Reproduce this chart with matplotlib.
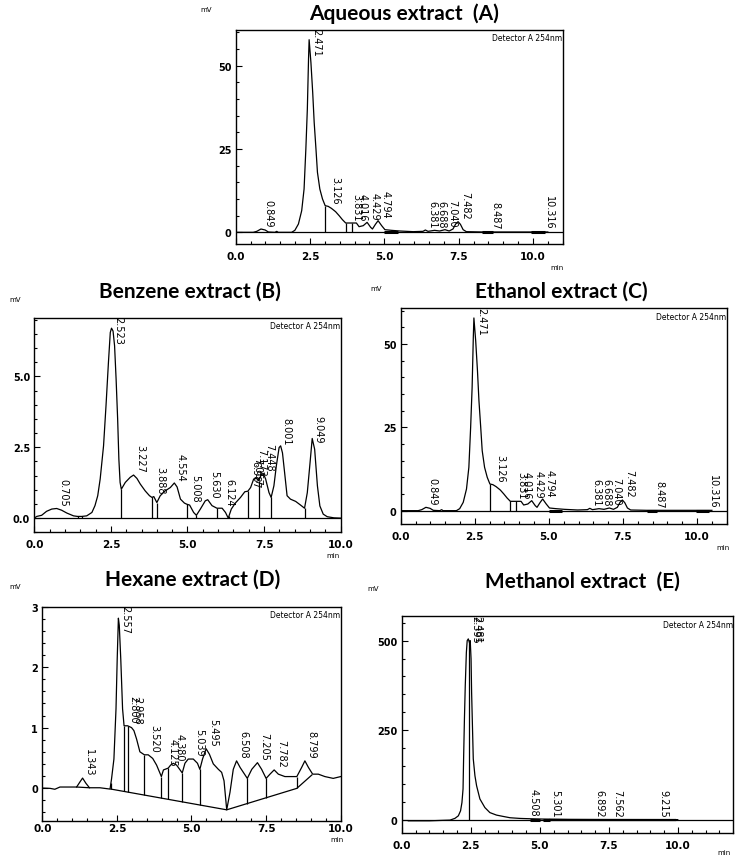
import numpy as np
import matplotlib as mpl; mpl.use("Agg")
import matplotlib.pyplot as plt
from matplotlib.ticker import MultipleLocator, FormatStrFormatter

NARROW = ["Liberation Sans Narrow", "DejaVu Sans"]
TITLEF = ["Lato", "DejaVu Sans"]
W, H = 738, 862

# ---- Aqueous extract (A); the ethanol trace (C) reads the same ----
t_aq = [0.0, 0.59, 0.71, 0.85, 0.99, 1.10, 1.32, 1.38, 1.43, 1.88, 1.99, 2.11, 2.22, 2.30, 2.36,
        2.41, 2.45, 2.47, 2.53, 2.59, 2.64, 2.70, 2.75, 2.83, 2.92, 3.01, 3.11, 3.22, 3.36, 3.48,
        3.59, 3.70, 4.06, 4.15, 4.29, 4.42, 4.54, 4.60, 4.70, 4.79, 4.91, 5.02, 5.24, 5.52, 5.97,
        6.30, 6.38, 6.47, 6.69, 6.86, 7.04, 7.18, 7.31, 7.40, 7.48, 7.56, 7.65, 7.76, 8.32, 10.0, 10.5]
mv_aq = [0, 0, 0.3, 1.0, 0.7, 0.1, 0, 0.3, 0, 0, 0.6, 2.5, 6.5, 13, 25,
         37, 52, 57.8, 51, 42, 33, 25, 18, 13, 10, 8.0, 7.8, 7.2, 6.2, 5.0,
         3.8, 2.8, 2.8, 1.7, 2.0, 3.0, 1.5, 1.0, 2.4, 3.5, 2.0, 0.8, 0.6, 0.4, 0.2,
         0.3, 0.7, 0.3, 0.6, 0.4, 0.8, 0.4, 1.0, 2.5, 3.2, 2.4, 0.8, 0.2, 0.1, 0.1, 0.1]
rt_aq = [0.849, 2.471, 3.126, 3.831, 4.016, 4.429, 4.794, 6.381, 6.688, 7.040, 7.482, 8.487, 10.316]
drop_aq = [3.01, 3.70, 3.90]
mark_aq = [(5.0, 5.45), (8.3, 8.65), (9.95, 10.4)]
t_eth, mv_eth, rt_eth, drop_eth, mark_eth = t_aq, mv_aq, rt_aq, drop_aq, mark_aq

# ---- Benzene extract (B) ----
t_bz = [0.0, 0.08, 0.24, 0.40, 0.57, 0.73, 0.89, 1.06, 1.28, 1.41, 1.55, 1.71, 1.88, 1.98, 2.07,
        2.15, 2.26, 2.34, 2.42, 2.48, 2.52, 2.57, 2.62, 2.67, 2.72, 2.76, 2.80, 2.84, 2.97, 3.13,
        3.24, 3.35, 3.46, 3.62, 3.76, 3.84, 3.90, 4.00, 4.11, 4.27, 4.44, 4.57, 4.66, 4.77, 4.90,
        4.98, 5.07, 5.20, 5.29, 5.42, 5.58, 5.66, 5.80, 5.96, 6.13, 6.24, 6.33, 6.43, 6.56, 6.73,
        6.87, 6.97, 7.06, 7.16, 7.25, 7.33, 7.40, 7.47, 7.55, 7.66, 7.73, 7.82, 7.90, 7.99, 8.04,
        8.10, 8.17, 8.25, 8.36, 8.53, 8.69, 8.82, 8.91, 9.00, 9.07, 9.15, 9.24, 9.32, 9.43, 9.56,
        9.78, 10.0]
mv_bz = [0.0, 0.06, 0.10, 0.24, 0.32, 0.34, 0.28, 0.18, 0.08, 0.06, 0.06, 0.08, 0.20, 0.44, 0.79,
         1.38, 2.55, 3.96, 5.5, 6.55, 6.7, 6.6, 6.08, 4.9, 3.5, 2.08, 1.26, 1.02, 1.26, 1.44,
         1.52, 1.40, 1.20, 0.96, 0.79, 0.73, 0.76, 0.55, 0.79, 0.96, 1.08, 1.24, 1.10, 0.67, 0.53,
         0.49, 0.46, 0.20, 0.10, 0.32, 0.61, 0.65, 0.44, 0.35, 0.35, 0.20, 0.0, 0.32, 0.53, 0.73,
         0.93, 0.95, 1.08, 1.38, 1.40, 1.32, 1.52, 1.58, 1.38, 0.90, 0.73, 1.14, 1.85, 2.49, 2.55,
         2.30, 1.60, 0.79, 0.67, 0.59, 0.46, 0.35, 0.90, 1.96, 2.81, 2.43, 1.14, 0.43, 0.14, 0.05,
         0.01, 0.0]
rt_bz = [0.705, 2.523, 3.227, 3.888, 4.554, 5.008, 5.630, 6.124, 6.987, 7.057, 7.173, 7.448, 8.001, 9.049]
drop_bz = [1.41, 1.55, 2.84, 3.84, 4.00, 4.98, 5.29, 5.96, 6.35, 6.97, 7.33, 7.73, 8.82]

# ---- Hexane extract (D) ----
t_hx = [0.0, 0.26, 0.42, 0.59, 1.15, 1.26, 1.35, 1.46, 1.58, 1.93, 2.27, 2.32, 2.40, 2.47, 2.51,
        2.55, 2.58, 2.63, 2.69, 2.74, 2.86, 2.99, 3.07, 3.16, 3.27, 3.42, 3.55, 3.70, 3.83, 3.94,
        3.99, 4.06, 4.22, 4.30, 4.39, 4.50, 4.69, 4.78, 4.89, 5.06, 5.20, 5.28, 5.37, 5.49, 5.60,
        5.73, 5.90, 6.01, 6.09, 6.18, 6.29, 6.40, 6.51, 6.63, 6.87, 7.02, 7.21, 7.35, 7.50, 7.63,
        7.77, 7.91, 8.13, 8.53, 8.69, 8.80, 8.92, 9.06, 9.25, 9.47, 9.75, 10.0]
mv_hx = [0.0, -0.005, -0.02, 0.017, 0.017, 0.10, 0.165, 0.08, 0.005, 0.005, -0.017, 0.15, 0.48, 1.31, 2.13,
         2.81, 2.69, 2.13, 1.31, 1.03, 1.03, 1.0, 0.95, 0.81, 0.60, 0.55, 0.55, 0.49, 0.38, 0.25,
         0.19, 0.30, 0.33, 0.38, 0.41, 0.38, 0.25, 0.41, 0.48, 0.48, 0.41, 0.31, 0.48, 0.65, 0.56,
         0.40, 0.31, 0.26, 0.12, -0.36, -0.07, 0.31, 0.45, 0.34, 0.16, 0.31, 0.42, 0.31, 0.16, 0.23,
         0.30, 0.23, 0.19, 0.19, 0.34, 0.45, 0.34, 0.23, 0.23, 0.19, 0.16, 0.19]
rt_hx = [1.343, 2.557, 2.800, 2.958, 3.520, 4.125, 4.380, 5.039, 5.495, 6.508, 7.205, 7.782, 8.799]
drop_hx = [2.30, 2.74, 2.86, 3.42, 3.99, 4.22, 4.69, 5.28, 6.18, 6.87, 7.50, 8.53]
base_t_hx = [2.30, 6.18, 8.53, 9.03]
base_mv_hx = [-0.017, -0.36, -0.005, 0.215]
base2_t_hx = [1.15, 1.58]
base2_mv_hx = [0.017, 0.005]

# ---- Methanol extract (E) ----
t_me = [0.24, 1.0, 1.75, 1.93, 2.05, 2.13, 2.18, 2.22, 2.24, 2.27, 2.30, 2.34, 2.37, 2.41, 2.45,
        2.48, 2.51, 2.53, 2.59, 2.65, 2.71, 2.83, 3.01, 3.19, 3.43, 3.67, 3.92, 4.28, 4.64, 5.12,
        6.08, 7.30, 9.99]
mv_me = [-3, -3, -1, 4, 11, 25, 48, 86, 170, 281, 374, 467, 500, 505, 495,
         500, 449, 355, 170, 123, 95, 58, 34, 20, 13, 9.3, 5.6, 3.7, 2.8, 1.9,
         0.9, 0.5, 0.3]
rt_me = [2.395, 2.481, 4.508, 5.301, 6.892, 7.562, 9.215]
drop_me = [2.43]
mark_me = [(4.64, 5.0), (5.12, 5.36)]


def px(x, y):
    return x / W, 1 - y / H


fig = plt.figure(figsize=(W / 100, H / 100), dpi=100)


def panel(box, title, tpos, mvpos, minpos, t, mv, rts, drops, xlim, ylim, xmaj, ymaj, ymin, yfmt,
          base=None, base2=None, zero=True, marks=(), xpad=5):
    l, t_, r, b = box
    ax = fig.add_axes([l / W, 1 - b / H, (r - l) / W, (b - t_) / H])
    ax.set_xlim(xlim); ax.set_ylim(ylim)
    if zero:
        ax.axhline(0, color="k", lw=0.9)
    ax.plot(t, mv, color="k", lw=0.9)
    for a, z in marks:
        ax.plot([a, z], [0, 0], color="k", lw=2.2, solid_capstyle="butt")
    if base is not None:
        ax.plot(base[0], base[1], color="k", lw=0.9)
    if base2 is not None:
        ax.plot(base2[0], base2[1], color="k", lw=0.9)
    for d in drops:
        lo = np.interp(d, base[0], base[1]) if base is not None else 0
        ax.vlines(d, lo, np.interp(d, t, mv), color="k", lw=0.9)
    # peak retention-time labels, kept inside the frame like the instrument printout
    top = ax.transAxes.transform((0, 1))[1]
    inv = ax.transData.inverted()
    for rt in rts:
        pxl, pyl = ax.transData.transform((rt, np.interp(rt, t, mv)))
        pyl = min(pyl + 3, top - 5 - 21)
        xd, yd = inv.transform((pxl + 2, pyl))
        ax.text(xd, yd, f"{rt:.3f}", rotation=-90, ha="left", va="bottom",
                family=NARROW, fontsize=7)
    ax.text(0.998, 0.985, "Detector A 254nm", transform=ax.transAxes, ha="right", va="top",
            family=NARROW, fontsize=5.5)
    ax.xaxis.set_major_locator(MultipleLocator(xmaj)); ax.xaxis.set_minor_locator(MultipleLocator(0.5))
    ax.yaxis.set_major_locator(MultipleLocator(ymaj)); ax.yaxis.set_minor_locator(MultipleLocator(ymin))
    ax.xaxis.set_major_formatter(FormatStrFormatter("%.1f"))
    ax.yaxis.set_major_formatter(FormatStrFormatter(yfmt))
    ax.tick_params(which="both", direction="in", width=0.8, top=False, right=False)
    ax.tick_params(which="major", length=4)
    ax.tick_params(which="minor", length=2.5)
    ax.tick_params(axis="x", pad=xpad)
    ax.tick_params(axis="y", pad=3)
    for lb in ax.get_xticklabels():
        lb.set_family(NARROW); lb.set_fontsize(7.5); lb.set_fontweight("bold")
    for lb in ax.get_yticklabels():
        lb.set_family(NARROW); lb.set_fontsize(7); lb.set_fontweight("bold")
    for s in ax.spines.values():
        s.set_linewidth(1.0)
    fig.text(*px(*tpos), title, ha="center", va="center", family=TITLEF, fontweight="bold", fontsize=15)
    fig.text(*px(*mvpos), "mV", ha="center", va="center", family=NARROW, fontsize=5)
    fig.text(*px(*minpos), "min", ha="center", va="center", family=NARROW, fontsize=5)
    return ax


panel((235.7, 30.7, 562.7, 245), "Aqueous extract  (A)", (404, 13.5), (206, 10), (557, 268),
      t_aq, mv_aq, rt_aq, drop_aq, (0, 11), (-3.5, 60.8), 2.5, 25, 5, "%d", marks=mark_aq)
panel((34.3, 319, 340.7, 533.3), "Benzene extract (B)", (190, 291.7), (15, 300), (333, 556),
      t_bz, mv_bz, rt_bz, drop_bz, (0, 10), (-0.5, 7.06), 2.5, 2.5, 0.5, "%.1f")
panel((400.7, 309.3, 726.7, 525), "Ethanol extract (C)", (561, 291.7), (376, 289), (723, 548),
      t_eth, mv_eth, rt_eth, drop_eth, (0, 11), (-4.0, 60.7), 2.5, 25, 5, "%d", marks=mark_eth)
panel((42.3, 607.7, 340.7, 821.7), "Hexane extract (D)", (193, 580), (15, 587), (337, 840),
      t_hx, mv_hx, rt_hx, drop_hx, (0, 10), (-0.54, 3.0), 2.5, 1, 0.2, "%d",
      base=(base_t_hx, base_mv_hx), base2=(base2_t_hx, base2_mv_hx), zero=False, xpad=1.5)
ax = panel((401.7, 617.3, 733.3, 834), "Methanol extract  (E)", (582, 581.5), (373, 589), (724, 853),
           t_me, mv_me, rt_me, drop_me, (0, 12), (-37, 568), 2.5, 250, 50, "%d", marks=mark_me)
ax.plot([5.36, 9.88], [0, 0], color="k", lw=1.6)

fig.savefig("out.png", dpi=100)
